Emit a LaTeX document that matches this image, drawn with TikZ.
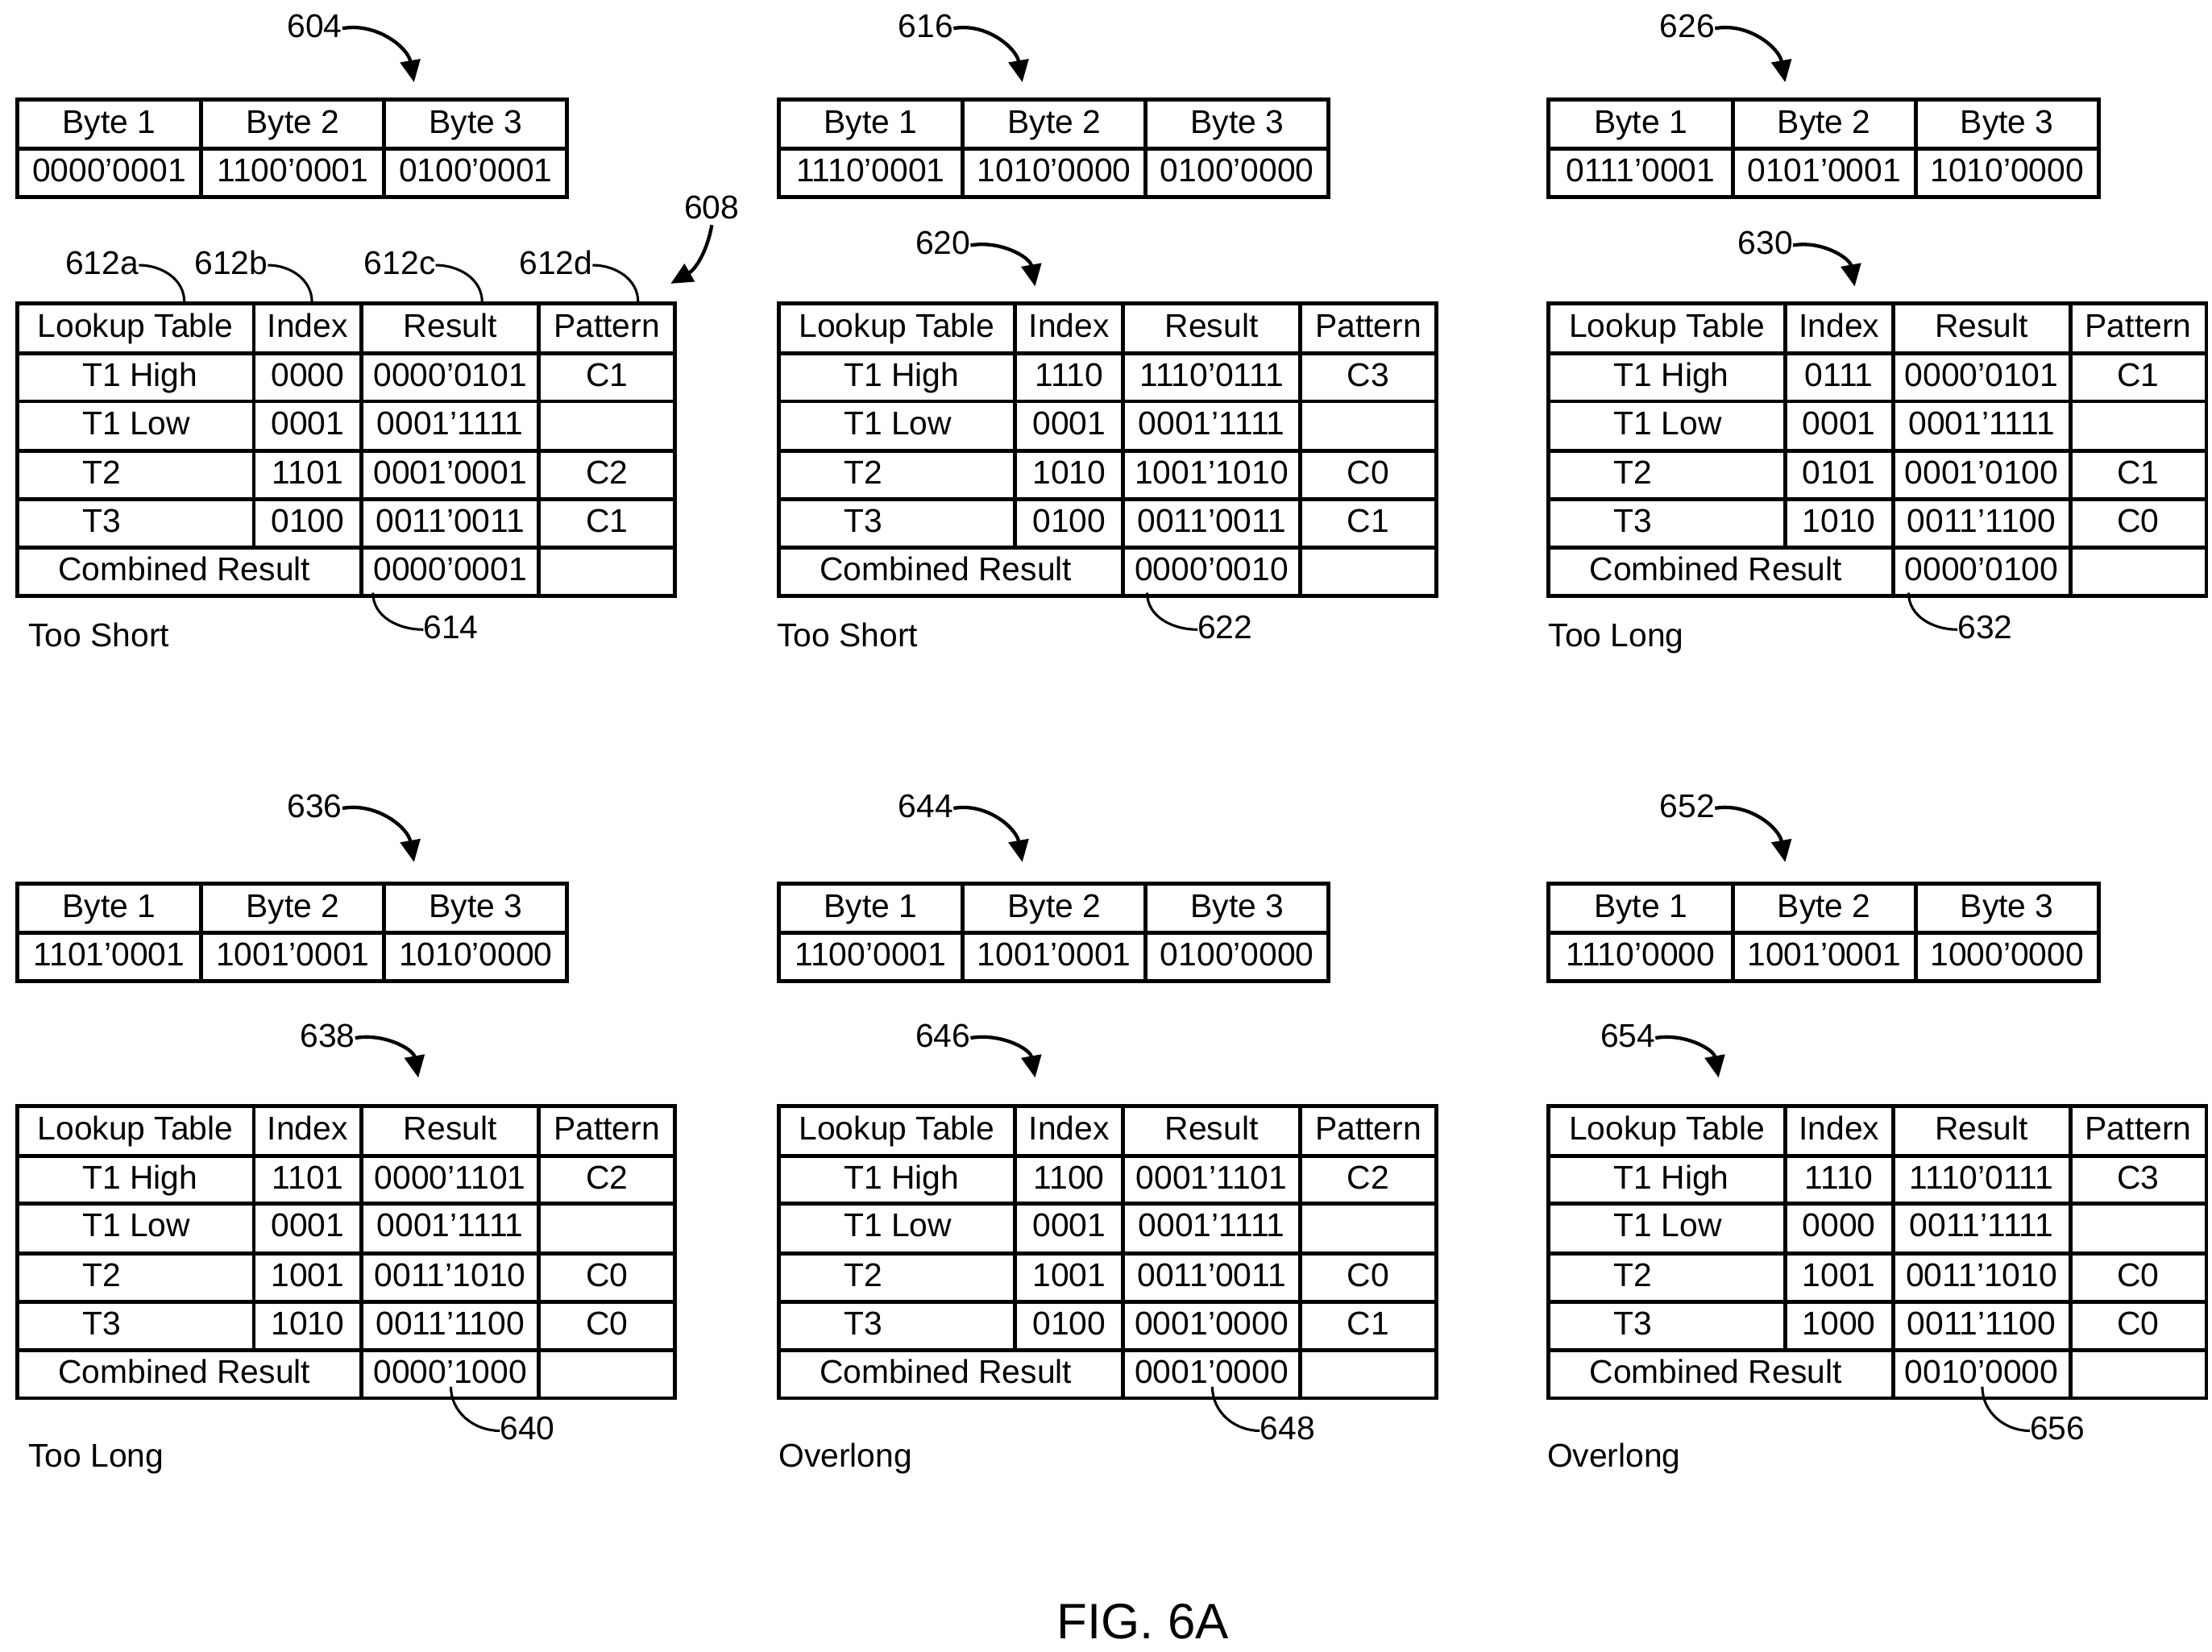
\documentclass[tikz,border=0pt]{standalone}
\usepackage{fontspec}
\setmainfont{Liberation Sans}
\usetikzlibrary{arrows.meta}
\begin{document}
\begin{tikzpicture}[x=0.05cm,y=-0.05cm,
  every node/.style={font=\fontsize{33}{38}\selectfont,inner sep=0pt,text height=24pt,text depth=6pt},
  grid/.style={line width=4pt},
  arr/.style={line width=3.5pt,-{Triangle[length=22pt,width=20pt]}},
  lead/.style={line width=2.5pt}]
\useasboundingbox (0,0) rectangle (1560,1165);
\newcommand\bytes[5]{%
  \begin{scope}[shift={(#1,#2)}]
  \draw[grid] (0,0) rectangle (388,69) (0,35)--(388,35) (130,0)--(130,69) (259,0)--(259,69);
  \node at (65,17.5) {Byte 1}; \node at (194.5,17.5) {Byte 2}; \node at (323.5,17.5) {Byte 3};
  \node at (65,52) {#3}; \node at (194.5,52) {#4}; \node at (323.5,52) {#5};
  \end{scope}}
\newcommand\lut[3]{%
  \begin{scope}[shift={(#1,#2)}]
  \draw[grid] (0,0) rectangle (464,206);
  \foreach \r in {35,69,104,138,172} \draw[grid] (0,\r)--(464,\r);
  \draw[grid] (167,0)--(167,172) (243,0)--(243,206) (368,0)--(368,206);
  \node at (83.5,17.5) {Lookup Table}; \node at (205,17.5) {Index};
  \node at (305.5,17.5) {Result}; \node at (416,17.5) {Pattern};
  \node at (118,189) {Combined Result}; \node at (305.5,189) {#3};
  \end{scope}}
\newcommand\lrow[7]{%
  \begin{scope}[shift={(#1,#2)}]
  \node[anchor=west] at (46,0) {#3}; \node at (205,0) {#4};
  \node at (305.5,0) {#5}; \node at (416,0) {#6}; \node at (416,0) {#7};
  \end{scope}}
\newcommand\panel[9]{%
  \lrow{#1}{#2+52}{T1 High}{#3}{#4}{#5}{}%
  \lrow{#1}{#2+86}{T1 Low}{#6}{#7}{}{}%
  \lrow{#1}{#2+121}{T2}{#8}{#9}{}{}}
% ---------- panel 1
\bytes{12}{70}{0000’0001}{1100’0001}{0100’0001}
\lut{12}{214}{0000’0001}
\panel{12}{214}{0000}{0000’0101}{C1}{0001}{0001’1111}{1101}{0001’0001}
\lrow{12}{335}{}{}{}{C2}{} \lrow{12}{369}{T3}{0100}{0011’0011}{C1}{}
\node (l604) at (222,20) {604}; \coordinate (t604) at (292,58);
\draw[arr] (l604.east) to[out=10,in=100] (t604);
\node (l608) at (502,148) {608}; \coordinate (t608) at (473,200);
\draw[arr] (l608.south) to[out=-100,in=30] (t608);
\node (a) at (72,187) {612a}; \coordinate (ta) at (130,213); \draw[lead] (a.east) to[out=0,in=90] (ta);
\node (b) at (163,187) {612b}; \coordinate (tb) at (220,213); \draw[lead] (b.east) to[out=0,in=90] (tb);
\node (c) at (282,187) {612c}; \coordinate (tc) at (340,213); \draw[lead] (c.east) to[out=0,in=90] (tc);
\node (d) at (392,187) {612d}; \coordinate (td) at (450,213); \draw[lead] (d.east) to[out=0,in=90] (td);
\node (l614) at (318,444) {614}; \coordinate (s614) at (263,418);
\draw[lead] (s614) to[out=-90,in=180] (l614.west);
\node[anchor=west] (c1) at (20,450) {Too Short};
% ---------- panel 2
\bytes{549}{70}{1110’0001}{1010’0000}{0100’0000}
\lut{549}{214}{0000’0010}
\panel{549}{214}{1110}{1110’0111}{C3}{0001}{0001’1111}{1010}{1001’1010}
\lrow{549}{335}{}{}{}{C0}{} \lrow{549}{369}{T3}{0100}{0011’0011}{C1}{}
\node (l616) at (653,20) {616}; \coordinate (t616) at (721,58);
\draw[arr] (l616.east) to[out=10,in=100] (t616);
\node (l620) at (665,173) {620}; \coordinate (t620) at (730,202);
\draw[arr] (l620.east) to[out=10,in=100] (t620);
\node (l622) at (864,444) {622}; \coordinate (s622) at (809,418);
\draw[lead] (s622) to[out=-90,in=180] (l622.west);
\node[anchor=west] (c2) at (548,450) {Too Short};
% ---------- panel 3
\bytes{1092}{70}{0111’0001}{0101’0001}{1010’0000}
\lut{1092}{214}{0000’0100}
\panel{1092}{214}{0111}{0000’0101}{C1}{0001}{0001’1111}{0101}{0001’0100}
\lrow{1092}{335}{}{}{}{C1}{} \lrow{1092}{369}{T3}{1010}{0011’1100}{C0}{}
\node (l626) at (1190,20) {626}; \coordinate (t626) at (1259,58);
\draw[arr] (l626.east) to[out=10,in=100] (t626);
\node (l630) at (1245,173) {630}; \coordinate (t630) at (1308,202);
\draw[arr] (l630.east) to[out=10,in=100] (t630);
\node (l632) at (1400,444) {632}; \coordinate (s632) at (1346,418);
\draw[lead] (s632) to[out=-90,in=180] (l632.west);
\node[anchor=west] (c3) at (1092,450) {Too Long};
% ---------- panel 4
\bytes{12}{623}{1101’0001}{1001’0001}{1010’0000}
\lut{12}{780}{0000’1000}
\panel{12}{780}{1101}{0000’1101}{C2}{0001}{0001’1111}{1001}{0011’1010}
\lrow{12}{901}{}{}{}{C0}{} \lrow{12}{935}{T3}{1010}{0011’1100}{C0}{}
\node (l636) at (222,570) {636}; \coordinate (t636) at (292,608);
\draw[arr] (l636.east) to[out=10,in=100] (t636);
\node (l638) at (231,732) {638}; \coordinate (t638) at (295,760);
\draw[arr] (l638.east) to[out=10,in=100] (t638);
\node (l640) at (372,1009) {640}; \coordinate (s640) at (318,978);
\draw[lead] (s640) to[out=-90,in=180] (l640.west);
\node[anchor=west] (c4) at (20,1028) {Too Long};
% ---------- panel 5
\bytes{549}{623}{1100’0001}{1001’0001}{0100’0000}
\lut{549}{780}{0001’0000}
\panel{549}{780}{1100}{0001’1101}{C2}{0001}{0001’1111}{1001}{0011’0011}
\lrow{549}{901}{}{}{}{C0}{} \lrow{549}{935}{T3}{0100}{0001’0000}{C1}{}
\node (l644) at (653,570) {644}; \coordinate (t644) at (721,608);
\draw[arr] (l644.east) to[out=10,in=100] (t644);
\node (l646) at (665,732) {646}; \coordinate (t646) at (730,760);
\draw[arr] (l646.east) to[out=10,in=100] (t646);
\node (l648) at (908,1009) {648}; \coordinate (s648) at (855,978);
\draw[lead] (s648) to[out=-90,in=180] (l648.west);
\node[anchor=west] (c5) at (549,1028) {Overlong};
% ---------- panel 6
\bytes{1092}{623}{1110’0000}{1001’0001}{1000’0000}
\lut{1092}{780}{0010’0000}
\panel{1092}{780}{1110}{1110’0111}{C3}{0000}{0011’1111}{1001}{0011’1010}
\lrow{1092}{901}{}{}{}{C0}{} \lrow{1092}{935}{T3}{1000}{0011’1100}{C0}{}
\node (l652) at (1190,570) {652}; \coordinate (t652) at (1259,608);
\draw[arr] (l652.east) to[out=10,in=100] (t652);
\node (l654) at (1148,732) {654}; \coordinate (t654) at (1212,760);
\draw[arr] (l654.east) to[out=10,in=100] (t654);
\node (l656) at (1451,1009) {656}; \coordinate (s656) at (1398,978);
\draw[lead] (s656) to[out=-90,in=180] (l656.west);
\node[anchor=west] (c6) at (1091,1028) {Overlong};
\node[font=\fontsize{50}{56}\selectfont,text height=36pt,text depth=0pt] (fig) at (806,1143) {FIG. 6A};
\end{tikzpicture}
\end{document}
